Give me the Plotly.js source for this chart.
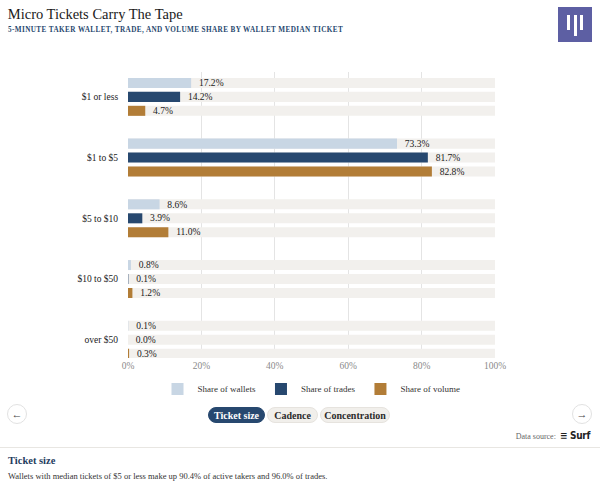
<!DOCTYPE html>
<html>
<head>
<meta charset="utf-8">
<script src="https://cdn.plot.ly/plotly-3.0.1.min.js"></script>
<style>
  html, body { margin: 0; padding: 0; background: #ffffff; }
  #wrap { position: relative; width: 600px; height: 487px; overflow: hidden; font-family: "Liberation Serif", "DejaVu Serif", serif; }
  #chart { position: absolute; left: 0; top: 0; width: 600px; height: 487px; }
  .pill { position: absolute; top: 407px; height: 16px; line-height: 16px; border-radius: 9px; font-size: 10px; font-weight: bold; text-align: center; color: #2b2b2b; background: #f1efeb; border: 1px solid #e6e3de; box-sizing: border-box; }
  .pill.on { background: #27486f; color: #ffffff; border-color: #27486f; }
  .arrow { position: absolute; top: 404px; width: 20px; height: 20px; border-radius: 50%; border: 1px solid #e2e2e2; box-sizing: border-box; text-align: center; line-height: 18px; font-size: 11px; color: #444; background: #fff; }
  #src { position: absolute; top: 430px; right: 10px; font-size: 8px; color: #666; white-space: nowrap; }
  #src b { font-family: "DejaVu Sans Condensed", "DejaVu Sans", sans-serif; font-size: 10px; color: #222; letter-spacing: -0.3px; }
  #rule { position: absolute; left: 0; top: 447px; width: 600px; height: 1px; background: #e8e6e2; }
  #ft1 { position: absolute; left: 8px; top: 455px; font-size: 10.5px; font-weight: bold; color: #1f3d60; }
  #ft2 { position: absolute; left: 8px; top: 471px; font-size: 8.5px; color: #333; white-space: nowrap; }
  #sub { position: absolute; left: 8px; top: 26px; font-size: 7.2px; font-weight: bold; letter-spacing: 0.4px; color: #27486f; white-space: nowrap; }
  #logo { position: absolute; left: 558px; top: 7px; width: 34px; height: 35px; background: #5d5fa3; }
  #logo i { position: absolute; background: #fff; width: 3px; }
</style>
</head>
<body>
<div id="wrap">
  <div id="chart"></div>
  <div id="sub">5-MINUTE TAKER WALLET, TRADE, AND VOLUME SHARE BY WALLET MEDIAN TICKET</div>
  <div id="logo"><i style="left:9px;top:8px;height:15px"></i><i style="left:15.5px;top:8px;height:21px"></i><i style="left:22px;top:8px;height:15px"></i></div>
  <div class="arrow" style="left:7px">&#8592;</div>
  <div class="arrow" style="left:572px">&#8594;</div>
  <div class="pill on" style="left:208px;width:57px">Ticket size</div>
  <div class="pill" style="left:267px;width:51px">Cadence</div>
  <div class="pill" style="left:320px;width:70px">Concentration</div>
  <div id="src">Data source: &nbsp;<b>&#8801; Surf</b></div>
  <div id="rule"></div>
  <div id="ft1">Ticket size</div>
  <div id="ft2">Wallets with median tickets of $5 or less make up 90.4% of active takers and 96.0% of trades.</div>
</div>
<script>
// ---- data ----
const categories = ["$1 or less", "$1 to $5", "$5 to $10", "$10 to $50", "over $50"];
const seriesNames = ["Share of wallets", "Share of trades", "Share of volume"];
const shareWallets = [17.2, 73.3, 8.6, 0.8, 0.1];
const shareTrades  = [14.2, 81.7, 3.9, 0.1, 0.0];
const shareVolume  = [4.7, 82.8, 11.0, 1.2, 0.3];
const trackValues  = [100, 100, 100, 100, 100];
const xTickVals = [0, 20, 40, 60, 80, 100];
const xTickText = ["0%", "20%", "40%", "60%", "80%", "100%"];

// ---- style ----
const colors = ["#c8d6e4", "#27486f", "#b27d37"];
const trackColor = "#f2f0ed";
const barW = 0.165;
const offsets = [-0.313, -0.083, 0.147];
const serif = "Liberation Serif, DejaVu Serif, serif";
const seriesData = [shareWallets, shareTrades, shareVolume];

const traces = [];
for (let i = 0; i < 3; i++) {
  traces.push({
    type: "bar", orientation: "h", y: categories, x: trackValues,
    width: barW, offset: offsets[i],
    marker: { color: trackColor }, showlegend: false, hoverinfo: "skip"
  });
}
for (let i = 0; i < 3; i++) {
  traces.push({
    type: "bar", orientation: "h", y: categories, x: seriesData[i],
    name: seriesNames[i], width: barW, offset: offsets[i],
    marker: { color: colors[i] },
    texttemplate: "\u00a0\u00a0%{x:.1f}%", textposition: "outside", cliponaxis: false,
    textfont: { family: serif, size: 10.5, color: "#1a1a1a" },
    insidetextfont: { family: serif, size: 10.5, color: "#1a1a1a" },
    outsidetextfont: { family: serif, size: 10.5, color: "#1a1a1a" }
  });
}

const layout = {
  width: 600, height: 487,
  margin: { l: 127.5, r: 105, t: 72, b: 129 },
  paper_bgcolor: "rgba(0,0,0,0)", plot_bgcolor: "rgba(0,0,0,0)",
  barmode: "overlay",
  font: { family: serif, color: "#222" },
  title: { text: "Micro Tickets Carry The Tape", x: 0.013, xanchor: "left", y: 0.972, yanchor: "middle",
           font: { family: serif, size: 14.5, color: "#1a1a1a" } },
  xaxis: { range: [0, 100], tickvals: xTickVals, ticktext: xTickText, showgrid: true, gridcolor: "#e4e4e4",
           gridwidth: 1, zeroline: false, showline: false, ticks: "", fixedrange: true,
           tickfont: { family: serif, size: 9.5, color: "#8a8a8a" } },
  yaxis: { type: "category", range: [4.3, -0.41], showgrid: false, zeroline: false, ticks: "outside",
           ticklen: 7, tickcolor: "rgba(0,0,0,0)", fixedrange: true,
           tickfont: { family: serif, size: 9.5, color: "#222" } },
  legend: { orientation: "h", x: 0.5, xanchor: "center", y: -0.108, yanchor: "middle",
            font: { family: serif, size: 9, color: "#333" }, traceorder: "normal", itemwidth: 30 },
  showlegend: true
};

Plotly.newPlot("chart", traces, layout, { displayModeBar: false, staticPlot: true });
</script>
</body>
</html>
